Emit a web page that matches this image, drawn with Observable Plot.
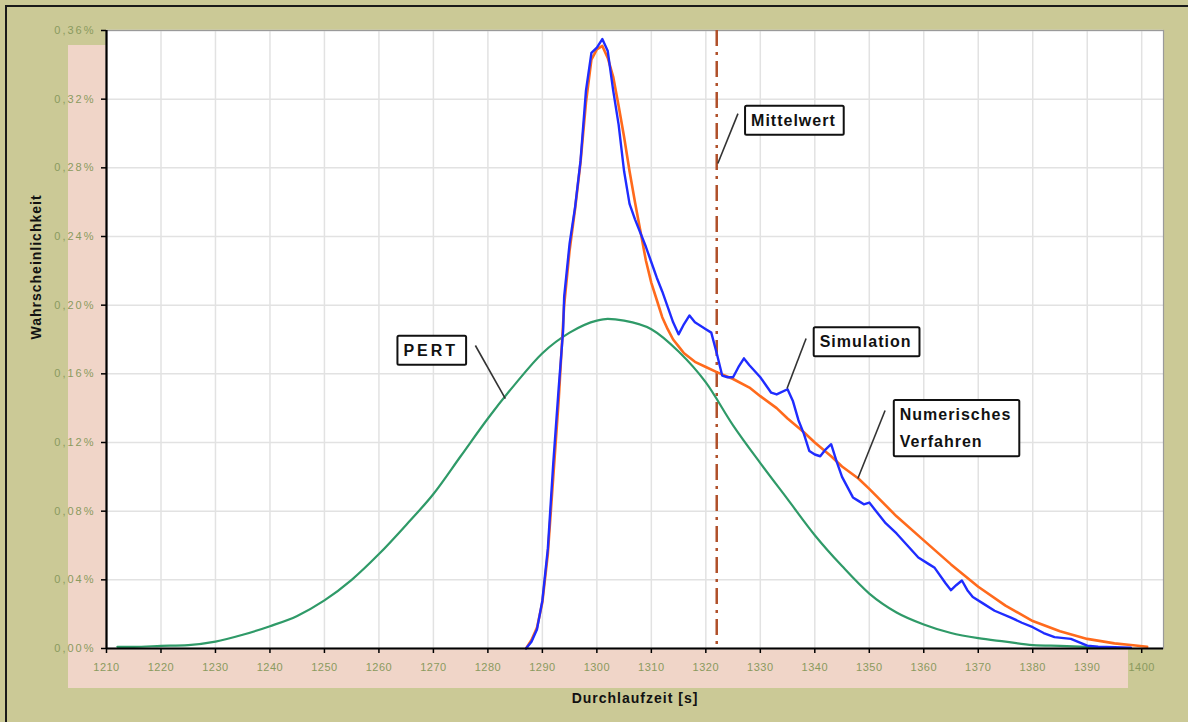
<!DOCTYPE html>
<html><head><meta charset="utf-8">
<script src="https://cdn.jsdelivr.net/npm/d3@7"></script>
<script src="https://cdn.jsdelivr.net/npm/@observablehq/plot@0.6"></script>
<style>
html,body{margin:0;padding:0;background:#cbc996;}
#wrap{position:relative;width:1188px;height:722px;overflow:hidden;background:#cbc996;}
#border{position:absolute;left:5px;top:5px;right:-10px;bottom:-10px;border-top:2px solid #1a1a1a;border-left:2px solid #1a1a1a;}
.pink{position:absolute;background:#f0d5c8;}
#chart{position:absolute;left:0;top:0;}
</style>
</head><body>
<div id="wrap">
  <div id="border"></div>
  <div class="pink" style="left:68px;top:45px;width:38px;height:603px;"></div>
  <div class="pink" style="left:68px;top:648px;width:1060px;height:40px;"></div>
  <div id="chart"></div>
</div>
<script>
// ---- data ----
const xTicks = [1210,1220,1230,1240,1250,1260,1270,1280,1290,1300,1310,1320,1330,1340,1350,1360,1370,1380,1390,1400];
const yTicks = [0,0.04,0.08,0.12,0.16,0.20,0.24,0.28,0.32,0.36];

const pertX = [1212,1215,1220,1225,1230,1235,1240,1245,1250,1255,1260,1265,1270,1275,1280,1285,1290,1295,1300,1302,1305,1310,1315,1320,1325,1330,1335,1340,1345,1350,1355,1360,1365,1370,1375,1380,1385,1390,1395];
const pertY = [0.001,0.001,0.0015,0.002,0.004,0.008,0.013,0.019,0.028,0.040,0.055,0.072,0.090,0.112,0.134,0.154,0.172,0.184,0.191,0.192,0.191,0.186,0.173,0.155,0.130,0.108,0.087,0.066,0.048,0.032,0.021,0.014,0.009,0.006,0.004,0.002,0.0015,0.001,0.0005];

const numX = [1287,1288,1289,1290,1291,1292,1293,1294,1295,1296,1297,1298,1299,1300,1301,1302,1303,1304,1305,1306,1307,1308,1309,1310,1311,1312,1313,1314,1315,1316,1318,1320,1322,1325,1328,1330,1333,1335,1338,1340,1343,1345,1348,1350,1355,1360,1365,1370,1375,1380,1385,1390,1395,1398,1401];
const numY = [0,0.005,0.012,0.027,0.055,0.100,0.145,0.200,0.232,0.256,0.283,0.318,0.343,0.349,0.351,0.344,0.333,0.316,0.298,0.278,0.260,0.243,0.226,0.213,0.203,0.193,0.186,0.180,0.176,0.172,0.167,0.164,0.161,0.157,0.152,0.147,0.140,0.134,0.126,0.120,0.112,0.106,0.099,0.093,0.077,0.063,0.049,0.036,0.025,0.016,0.010,0.0056,0.003,0.002,0.001];

const simX = [1287,1288,1289,1290,1291,1292,1293,1293.8,1294,1295,1296,1297,1298,1299,1300,1301,1302,1303,1304,1305,1306,1307,1308,1309,1310,1311,1312,1313,1314,1315,1316,1317,1318,1319,1320,1321,1322,1323,1324,1325,1326,1327,1328,1330,1332,1333,1335,1336,1337,1338,1339,1340,1341,1342,1343,1344,1345,1346,1347,1348,1349,1350,1351,1353,1355,1357,1359,1361,1362,1364,1365,1366,1367,1368,1369,1371,1373,1376,1378,1380,1382,1384,1387,1389,1390,1392,1395,1398];
const simY = [0,0.004,0.011,0.028,0.058,0.108,0.152,0.185,0.205,0.236,0.257,0.284,0.325,0.347,0.350,0.355,0.348,0.325,0.305,0.278,0.259,0.250,0.242,0.234,0.225,0.216,0.208,0.199,0.190,0.183,0.189,0.194,0.190,0.188,0.186,0.184,0.172,0.159,0.158,0.158,0.164,0.169,0.165,0.158,0.149,0.148,0.151,0.144,0.133,0.125,0.115,0.113,0.112,0.116,0.119,0.109,0.100,0.094,0.088,0.086,0.084,0.085,0.081,0.073,0.067,0.060,0.053,0.049,0.047,0.038,0.034,0.037,0.0396,0.034,0.030,0.026,0.022,0.018,0.015,0.0124,0.009,0.0066,0.0056,0.003,0.0017,0.001,0.0007,0.0005];

const meanValue = [1322];

const annLabels = ["Mittelwert","Simulation","Numerisches\nVerfahren","PERT"];
const annX = [1328.3,1340.9,1355.6,1264.5];
const annY = [0.3096,0.1806,0.1302,0.1756];
const ptrX1 = [1325.9,1338.4,1352.9,1277.7];
const ptrY1 = [0.3116,0.1806,0.1386,0.1765];
const ptrX2 = [1322.2,1334.9,1347.9,1283.2];
const ptrY2 = [0.2825,0.1515,0.0990,0.1456];

const xDomain = [1210,1404];
const yDomain = [0,0.36];

const fmtY = d => d.toFixed(2).replace(".", ",") + "%";
const fmtX = d => String(d);

const plot = Plot.plot({
  width:1188, height:722,
  marginLeft:106, marginRight:25, marginTop:30, marginBottom:74,
  style:{background:"transparent", fontFamily:"'Liberation Sans', Arial, sans-serif", fontSize:"11px", overflow:"visible"},
  x:{domain:xDomain},
  y:{domain:yDomain},
  marks:[
    Plot.frame({fill:"white", stroke:"none"}),
    Plot.gridX(xTicks,{stroke:"#e2e2e2", strokeOpacity:1, strokeWidth:1.5}),
    Plot.gridY(yTicks,{stroke:"#e2e2e2", strokeOpacity:1, strokeWidth:1.5}),
    Plot.frame({stroke:"#9a9a9a", strokeWidth:1.2}),
    Plot.ruleX(meanValue,{stroke:"#b0502a", strokeWidth:2.5, strokeDasharray:"16,6,3,6"}),
    Plot.line(pertY,{x:pertX, y:pertY, stroke:"#2f9a68", strokeWidth:2.2, curve:"monotone-x"}),
    Plot.line(numY,{x:numX, y:numY, stroke:"#ff6a1c", strokeWidth:2.6}),
    Plot.line(simY,{x:simX, y:simY, stroke:"#1f2cff", strokeWidth:2.4}),
    Plot.axisX(xTicks,{tickSize:5, tickPadding:10, tickFormat:fmtX, stroke:"black", strokeWidth:1.5, fill:"#8a9a5e", label:null}),
    Plot.axisY(yTicks,{tickSize:5, tickPadding:6, tickFormat:fmtY, stroke:"black", strokeWidth:1.5, fill:"#8a9a5e", label:null}),
    Plot.ruleY([yDomain[0]],{stroke:"black", strokeWidth:2.2}),
    Plot.ruleX([xDomain[0]],{stroke:"black", strokeWidth:2.2}),
    Plot.text(["Wahrscheinlichkeit"],{text:d=>d, frameAnchor:"left", dx:-70, rotate:-90, fontSize:14, fontWeight:"bold", fill:"#111"}),
    Plot.text(["Durchlaufzeit [s]"],{text:d=>d, frameAnchor:"bottom", dy:54, fontSize:14, fontWeight:"bold", fill:"#111"}),
    Plot.link(annLabels,{x1:ptrX1, y1:ptrY1, x2:ptrX2, y2:ptrY2, stroke:"#333", strokeWidth:1.6}),
    Plot.text(annLabels,{x:annX, y:annY, text:d=>d, textAnchor:"start", fontSize:16, fontWeight:"bold", lineHeight:1.7, fill:"#111"})
  ]
});
document.getElementById("chart").appendChild(plot);

// post-render styling: letter spacing and boxes around annotations
const ns = "http://www.w3.org/2000/svg";
const annKeys = new Set(annLabels.map(s => s.replace(/\n/g, "")));
const titleKeys = new Set(["Wahrscheinlichkeit","Durchlaufzeit [s]"]);
Array.from(plot.querySelectorAll("text")).forEach(t => {
  const s = t.textContent;
  if (/%$/.test(s)) t.style.letterSpacing = "2px";
  else if (/^\d{4}$/.test(s)) t.style.letterSpacing = "0.5px";
  else if (titleKeys.has(s)) t.style.letterSpacing = "1px";
  else if (annKeys.has(s)) {
    t.style.letterSpacing = s === "PERT" ? "3px" : "1px";
    const b = t.getBBox();
    const r = document.createElementNS(ns, "rect");
    const padL = 6, padR = 8, padV = 6;
    r.setAttribute("x", b.x - padL);
    r.setAttribute("y", b.y - padV);
    r.setAttribute("width", b.width + padL + padR);
    r.setAttribute("height", b.height + 2*padV);
    r.setAttribute("fill", "white");
    r.setAttribute("stroke", "#111");
    r.setAttribute("stroke-width", "2");
    r.setAttribute("rx", "1.5");
    if (t.getAttribute("transform")) r.setAttribute("transform", t.getAttribute("transform"));
    t.parentNode.insertBefore(r, t);
  }
});
</script>
</body></html>
